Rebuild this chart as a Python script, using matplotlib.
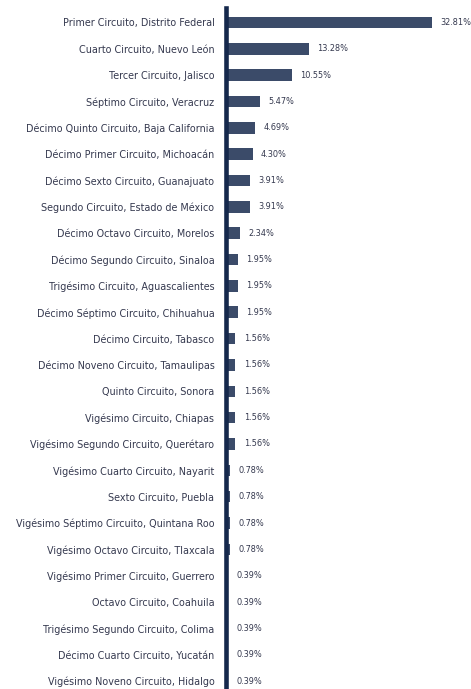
"""Distribución porcentual por circuito judicial (barras horizontales)."""

import matplotlib

matplotlib.use("Agg")
import matplotlib.pyplot as plt

circuits = [
    "Primer Circuito, Distrito Federal",
    "Cuarto Circuito, Nuevo León",
    "Tercer Circuito, Jalisco",
    "Séptimo Circuito, Veracruz",
    "Décimo Quinto Circuito, Baja California",
    "Décimo Primer Circuito, Michoacán",
    "Décimo Sexto Circuito, Guanajuato",
    "Segundo Circuito, Estado de México",
    "Décimo Octavo Circuito, Morelos",
    "Décimo Segundo Circuito, Sinaloa",
    "Trigésimo Circuito, Aguascalientes",
    "Décimo Séptimo Circuito, Chihuahua",
    "Décimo Circuito, Tabasco",
    "Décimo Noveno Circuito, Tamaulipas",
    "Quinto Circuito, Sonora",
    "Vigésimo Circuito, Chiapas",
    "Vigésimo Segundo Circuito, Querétaro",
    "Vigésimo Cuarto Circuito, Nayarit",
    "Sexto Circuito, Puebla",
    "Vigésimo Séptimo Circuito, Quintana Roo",
    "Vigésimo Octavo Circuito, Tlaxcala",
    "Vigésimo Primer Circuito, Guerrero",
    "Octavo Circuito, Coahuila",
    "Trigésimo Segundo Circuito, Colima",
    "Décimo Cuarto Circuito, Yucatán",
    "Vigésimo Noveno Circuito, Hidalgo",
]

percentages = [
    32.81, 13.28, 10.55, 5.47, 4.69, 4.30, 3.91, 3.91, 2.34, 1.95, 1.95, 1.95,
    1.56, 1.56, 1.56, 1.56, 1.56, 0.78, 0.78, 0.78, 0.78, 0.39, 0.39, 0.39,
    0.39, 0.39,
]

BAR_COLOR = "#3b4b69"
AXIS_COLOR = "#15284c"
TEXT_COLOR = "#34384e"

fig = plt.figure(figsize=(4.71, 6.89), dpi=100)
ax = fig.add_axes([225.5 / 471, 0.0, 1 - 225.5 / 471, 1 - 8 / 689])

positions = list(range(len(circuits)))
ax.barh(positions, percentages, height=0.44, color=BAR_COLOR)

for pos, value in zip(positions, percentages):
    ax.annotate(
        f"{value:.2f}%",
        xy=(value, pos),
        xytext=(6, 0),
        textcoords="offset points",
        va="center",
        ha="left",
        fontsize=5.9,
        color=TEXT_COLOR,
    )

ax.set_xlim(0, 39.0)
ax.set_ylim(len(circuits) - 1 + 0.3, -0.55)

ax.set_yticks(positions)
ax.set_yticklabels(circuits, fontsize=6.9, color=TEXT_COLOR)
ax.tick_params(axis="y", length=0, pad=8)
ax.set_xticks([])

for side in ("top", "right", "bottom"):
    ax.spines[side].set_visible(False)
ax.spines["left"].set_color(AXIS_COLOR)
ax.spines["left"].set_linewidth(3.3)

fig.savefig("out.png", dpi=100)
